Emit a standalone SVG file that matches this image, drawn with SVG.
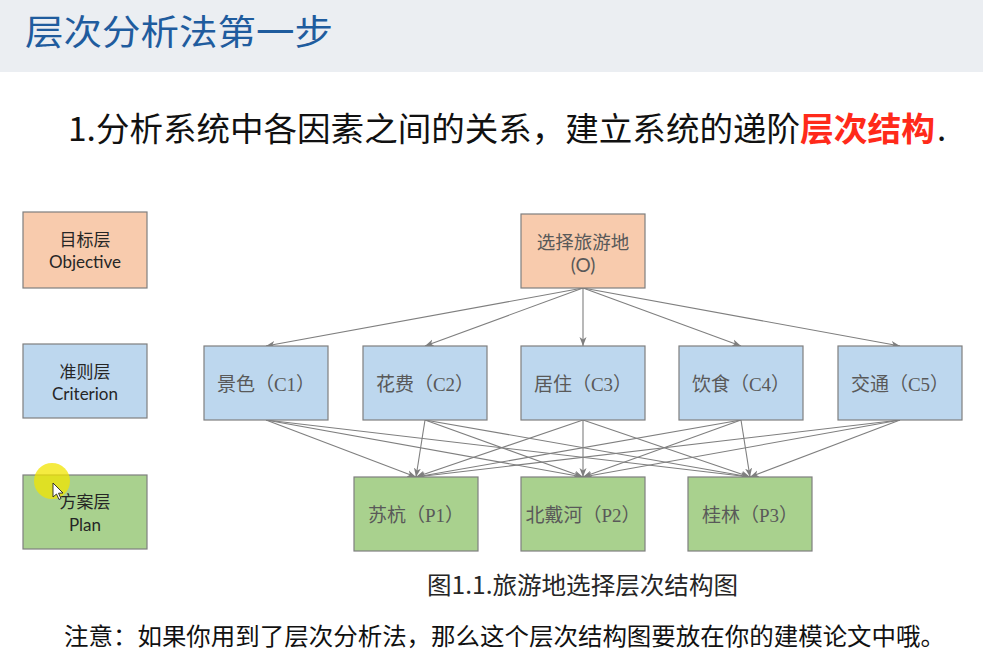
<svg xmlns="http://www.w3.org/2000/svg" width="983" height="654" viewBox="0 0 983 654">
<defs>
<style>
.cjk{font-family:"Noto Sans CJK SC","Noto Sans",sans-serif}
.box{stroke:#7f7f7f;stroke-width:1.2}
.o{fill:#f8cbad}.c{fill:#bdd7ee}.p{fill:#a9d18e}
.lbl{font-family:"Liberation Serif","Noto Sans CJK SC",serif;font-size:19px;fill:#595959;text-anchor:middle}
.lay{font-family:"Lato","Noto Sans CJK SC",sans-serif;font-size:17px;fill:#262626;text-anchor:middle}
.ln{stroke:#7f7f7f;stroke-width:1.1;fill:none;marker-end:url(#ah)}
</style>
<marker id="ah" markerWidth="10" markerHeight="8" refX="9" refY="4" orient="auto" markerUnits="userSpaceOnUse">
<path d="M0,0.5 L9,4 L0,7.5 L2.5,4 Z" fill="#7f7f7f"/>
</marker>
</defs>
<rect width="983" height="654" fill="#ffffff"/>
<rect x="0" y="0" width="983" height="72" fill="#ebeef2"/>
<text x="25" y="45" class="cjk" font-size="35" fill="#1f5c9e" textLength="308" lengthAdjust="spacingAndGlyphs">层次分析法第一步</text>
<text x="68" y="141" class="cjk" font-size="33" fill="#111111" textLength="732" lengthAdjust="spacingAndGlyphs">1.分析系统中各因素之间的关系，建立系统的递阶</text>
<text x="800" y="141" class="cjk" font-size="33" fill="#ff2a1a" font-weight="bold" textLength="135" lengthAdjust="spacingAndGlyphs">层次结构</text>
<text x="937" y="141" class="cjk" font-size="33" fill="#111111">.</text>

<g id="layer-objective"><rect class="box o" x="23" y="212" width="124" height="76"/><text class="lay" x="85" y="246">目标层</text><text class="lay" x="85" y="268">Objective</text></g>
<g id="layer-criterion"><rect class="box c" x="23" y="344" width="124" height="74"/><text class="lay" x="85" y="378">准则层</text><text class="lay" x="85" y="400">Criterion</text></g>
<g id="layer-plan"><rect class="box p" x="23" y="475" width="124" height="74"/><text class="lay" x="85" y="508">方案层</text><text class="lay" x="85" y="531">Plan</text></g>

<g id="connectors">
<line class="ln" x1="583" y1="288" x2="266" y2="346"/>
<line class="ln" x1="583" y1="288" x2="425" y2="346"/>
<line class="ln" x1="583" y1="288" x2="583" y2="346"/>
<line class="ln" x1="583" y1="288" x2="741" y2="346"/>
<line class="ln" x1="583" y1="288" x2="900" y2="346"/>
<line class="ln" x1="266" y1="420" x2="416" y2="477"/>
<line class="ln" x1="266" y1="420" x2="583" y2="477"/>
<line class="ln" x1="266" y1="420" x2="750" y2="477"/>
<line class="ln" x1="425" y1="420" x2="416" y2="477"/>
<line class="ln" x1="425" y1="420" x2="583" y2="477"/>
<line class="ln" x1="425" y1="420" x2="750" y2="477"/>
<line class="ln" x1="583" y1="420" x2="416" y2="477"/>
<line class="ln" x1="583" y1="420" x2="583" y2="477"/>
<line class="ln" x1="583" y1="420" x2="750" y2="477"/>
<line class="ln" x1="741" y1="420" x2="416" y2="477"/>
<line class="ln" x1="741" y1="420" x2="583" y2="477"/>
<line class="ln" x1="741" y1="420" x2="750" y2="477"/>
<line class="ln" x1="900" y1="420" x2="416" y2="477"/>
<line class="ln" x1="900" y1="420" x2="583" y2="477"/>
<line class="ln" x1="900" y1="420" x2="750" y2="477"/>
</g>

<g id="O"><rect class="box o" x="521" y="214" width="124" height="74"/><text class="lbl" x="583" y="249" style="font-family:'Noto Sans CJK SC',sans-serif;font-size:18.5px">选择旅游地</text><text class="lbl" x="583" y="272" style="font-family:'Lato',sans-serif">(O)</text></g>
<g id="C1"><rect class="box c" x="204" y="346" width="124" height="74"/><text class="lbl" x="266" y="391">景色（C1）</text></g>
<g id="C2"><rect class="box c" x="363" y="346" width="124" height="74"/><text class="lbl" x="425" y="391">花费（C2）</text></g>
<g id="C3"><rect class="box c" x="521" y="346" width="124" height="74"/><text class="lbl" x="583" y="391">居住（C3）</text></g>
<g id="C4"><rect class="box c" x="679" y="346" width="124" height="74"/><text class="lbl" x="741" y="391">饮食（C4）</text></g>
<g id="C5"><rect class="box c" x="838" y="346" width="124" height="74"/><text class="lbl" x="900" y="391">交通（C5）</text></g>
<g id="P1"><rect class="box p" x="354" y="477" width="124" height="74"/><text class="lbl" x="416" y="522">苏杭（P1）</text></g>
<g id="P2"><rect class="box p" x="521" y="477" width="124" height="74"/><text class="lbl" x="583" y="522">北戴河（P2）</text></g>
<g id="P3"><rect class="box p" x="688" y="477" width="124" height="74"/><text class="lbl" x="750" y="522">桂林（P3）</text></g>

<text x="427" y="594" class="cjk" font-size="24" fill="#262626" textLength="311" lengthAdjust="spacingAndGlyphs">图1.1.旅游地选择层次结构图</text>
<text x="64" y="645" class="cjk" font-size="24" fill="#111111" textLength="881" lengthAdjust="spacingAndGlyphs">注意：如果你用到了层次分析法，那么这个层次结构图要放在你的建模论文中哦。</text>

<circle cx="52" cy="481" r="18" fill="#f2e400" opacity="0.75"/>
<path d="M53,483 L53,497 L56.5,494 L59,499.5 L61,498.5 L58.5,493.2 L63,493 Z" fill="#ffffff" stroke="#222222" stroke-width="0.9"/>
</svg>
